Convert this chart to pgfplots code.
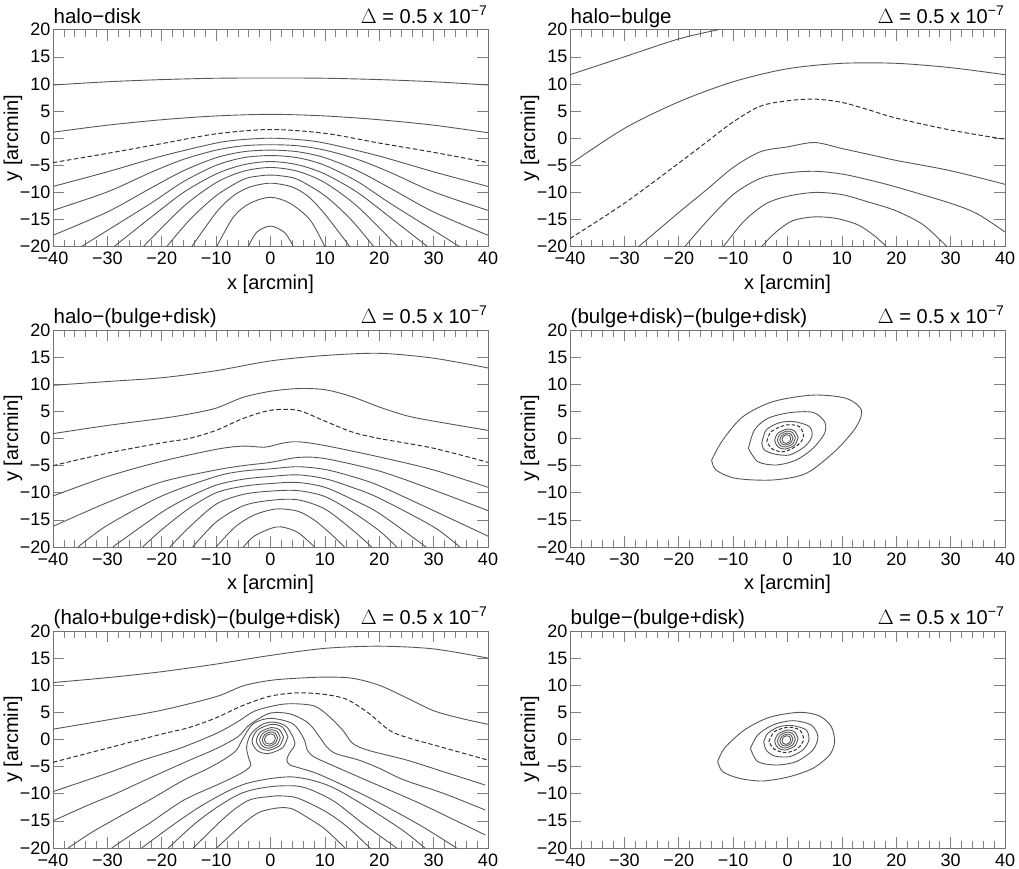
\documentclass[border=0pt]{standalone}
\usepackage{fontspec}
\setmainfont{Liberation Sans}
\usepackage{pgfplots}
\pgfplotsset{compat=1.18}
\newcommand{\tfnt}{\fontsize{18}{20}\selectfont}
\newcommand{\lfnt}{\fontsize{20}{22}\selectfont}
\newcommand{\hfnt}{\fontsize{20.5}{22}\selectfont}
\newcommand{\dl}{\lfnt$\Delta$ = 0.5 x 10\raisebox{0.42em}{\fontsize{14}{14}\selectfont −7}}
\pgfplotsset{
 cl/.style={smooth,no marks,black!66,line width=0.9pt},
 cd/.style={smooth,no marks,black!80,line width=1pt,dash pattern=on 4.5pt off 2.5pt},
 pan/.style={
  scale only axis,width=435pt,height=217pt,anchor=south west,
  xmin=-40,xmax=40,ymin=-20,ymax=20,clip=false,
  xtick={-40,-30,...,40},ytick={-20,-15,...,20},
  xticklabels={−40,−30,−20,−10,0,10,20,30,40},
  yticklabels={−20,−15,−10,−5,0,5,10,15,20},
  minor x tick num=4,
  tick align=inside,major tick length=11pt,minor tick length=7pt,
  axis line style={black!55,line width=0.8pt},
  tick style={black!50,line width=0.6pt},
  x tick label style={font=\tfnt,inner sep=0pt,yshift=-5.5pt,anchor=north},
  y tick label style={font=\tfnt,inner sep=0pt,xshift=-2.5pt,anchor=east},
  every axis y label/.style={at={(rel axis cs:0,0.5)},rotate=90,anchor=center,yshift=40pt,font=\lfnt},
  every axis x label/.style={at={(rel axis cs:0.5,0)},anchor=center,yshift=-37.5pt,font=\lfnt},
  ylabel={y [arcmin]},
 }}
\newcommand{\ttl}[1]{\node[anchor=base west,inner sep=0pt,font=\hfnt] at (rel axis cs:0,1) [yshift=6pt,xshift=0.5pt] {#1};
 \node[anchor=base east,inner sep=0pt,font=\lfnt] at (rel axis cs:1,1) [yshift=6pt,xshift=-1pt] {\dl};}
\begin{document}
\begin{tikzpicture}[x=1pt,y=1pt]
\path[use as bounding box] (0,0) rectangle (1019pt,869pt);
%--------- halo-disk
\begin{axis}[pan,at={(53pt,622.3pt)},xlabel={x [arcmin]}]
\ttl{halo−disk}
\addplot[cl] coordinates {(-40,9.8)(-30,10.4)(-20,10.8)(-10,11.05)(0,11.1)(10,11.05)(20,10.8)(30,10.4)(40,9.8)};
\addplot[cl] coordinates {(-40,1.1)(-30,2.4)(-20,3.4)(-10,4.1)(0,4.4)(10,4.1)(20,3.4)(30,2.4)(40,1.0)};
\addplot[cd] coordinates {(-40,-4.5)(-30,-2.8)(-20,-1)(-10,0.8)(0,1.6)(10,0.9)(20,-0.9)(30,-2.6)(40,-4.5)};
\addplot[cl] coordinates {(-40,-8.9)(-30,-6.2)(-20,-3.3)(-10,-0.9)(-5,-0.25)(0,0)(5,-0.25)(10,-0.9)(20,-3.3)(30,-6.2)(40,-8.9)};
\addplot[cl] coordinates {(-40,-13.3)(-30,-9.9)(-22,-6.3)(-16,-3.9)(-10,-2.2)(-5,-1.4)(0,-1.2)(5,-1.4)(10,-2.2)(16,-3.9)(22,-6.3)(30,-9.9)(40,-13.3)};
\addplot[cl] coordinates {(-40,-17.9)(-30,-13.6)(-22,-9.2)(-16,-6)(-10,-3.6)(-5,-2.5)(0,-2.2)(5,-2.5)(10,-3.6)(16,-6)(22,-9.2)(30,-13.6)(40,-17.9)};
\addplot[cl] coordinates {(-34.8,-20)(-30,-17)(-22,-12)(-16,-8)(-10,-5)(-5,-3.6)(0,-3.2)(5,-3.6)(10,-5)(16,-8)(22,-12)(30,-17)(34.8,-20)};
\addplot[cl] coordinates {(-28.8,-20)(-22,-14.6)(-16,-10)(-10,-6.6)(-5,-4.9)(0,-4.3)(5,-4.9)(10,-6.6)(16,-10)(22,-14.6)(28.9,-20)};
\addplot[cl] coordinates {(-23.4,-20)(-16,-12.6)(-10,-8.2)(-5,-6.1)(0,-5.4)(5,-6.1)(10,-8.2)(16,-12.6)(23.4,-20)};
\addplot[cl] coordinates {(-19.1,-20)(-14.8,-15)(-10,-10.6)(-5,-7.6)(-2,-6.95)(0,-6.8)(2,-6.95)(5,-7.6)(10,-10.6)(14.8,-15)(19,-20)};
\addplot[cl] coordinates {(-14.5,-20)(-9.9,-13.6)(-6.8,-10.6)(-3.8,-9)(0,-8.3)(4,-9)(7,-10.8)(10,-14)(14.6,-20)};
\addplot[cl] coordinates {(-9.9,-20)(-6.8,-14.5)(-3.8,-12)(0,-10.9)(3.6,-12)(7.3,-15.1)(10,-20)};
\addplot[cl] coordinates {(-4.1,-20)(-2.5,-17.3)(0,-16.2)(2.6,-17.4)(4.2,-20)};
\end{axis}
%--------- halo-bulge
\begin{axis}[pan,at={(570pt,622.3pt)},xlabel={x [arcmin]}]
\ttl{halo−bulge}
\addplot[cl] coordinates {(-40,11.7)(-30,15)(-20,18.3)(-12.7,20)};
\addplot[cl] coordinates {(-40,-4.8)(-30,1.8)(-20,6.7)(-10,10.4)(0,12.8)(10,13.8)(20,13.8)(30,13)(40,11.7)};
\addplot[cd] coordinates {(-40,-18.5)(-30,-12)(-20,-4.6)(-15,-0.8)(-10,3)(-5,5.9)(0,6.9)(5,7.2)(10,6.6)(15,5.2)(20,3.7)(30,1.5)(40,-0.2)};
\addplot[cl] coordinates {(-27.4,-20)(-20,-13.7)(-15,-9.6)(-10,-5.4)(-5,-2.5)(0,-1.6)(5,-0.8)(10,-1.9)(15,-3)(20,-4.1)(30,-6)(40,-8.5)};
\addplot[cl] coordinates {(-18.9,-20)(-15,-15.5)(-10,-10.4)(-5,-7.4)(0,-6.4)(5,-6.1)(10,-6.6)(15,-7.7)(20,-9)(30,-12)(35,-14)(40,-17.3)};
\addplot[cl] coordinates {(-11.8,-20)(-8,-15.3)(-4,-12.1)(0,-10.7)(5,-10)(10,-10.4)(15,-11.8)(20,-13.4)(25,-16)(29.3,-20)};
\addplot[cl] coordinates {(-4.8,-20)(-2,-17.2)(1,-15.2)(5,-14.5)(9,-14.8)(13,-16)(16,-18)(18.2,-20)};
\end{axis}
%--------- halo-(bulge+disk)
\begin{axis}[pan,at={(53pt,322pt)},xlabel={x [arcmin]}]
\ttl{halo−(bulge+disk)}
\addplot[cl] coordinates {(-40,9.8)(-30,10.5)(-20,11.2)(-10,12.5)(0,14.3)(10,15.3)(20,15.7)(30,14.8)(40,13)};
\addplot[cl] coordinates {(-40,0.9)(-30,2.4)(-20,3.7)(-15,4.5)(-10,5.6)(-5,7.6)(0,8.7)(5,9.2)(10,9)(15,7.7)(20,5.8)(25,4.2)(30,3.2)(40,1.5)};
\addplot[cd] coordinates {(-40,-5)(-30,-2.7)(-20,-0.8)(-15,0)(-10,1.5)(-5,3.7)(0,5.2)(5,5.2)(10,3.2)(15,1.2)(20,0)(30,-1.8)(40,-4.4)};
\addplot[cl] coordinates {(-40,-10.6)(-30,-7)(-20,-4.2)(-10,-2)(-5,-1.4)(-1,-1.6)(2,-0.9)(5,-0.6)(10,-1.3)(20,-3.4)(30,-5.8)(40,-9)};
\addplot[cl] coordinates {(-40,-16.2)(-30,-11.8)(-20,-8)(-10,-5.8)(-5,-5)(0,-4.4)(5,-3.5)(10,-3.7)(20,-6)(30,-9.5)(40,-13.3)};
\addplot[cl] coordinates {(-35.4,-20)(-30,-16)(-20,-10.6)(-10,-7)(-5,-6)(0,-5.6)(5,-5.2)(10,-5.7)(15,-7)(20,-8.7)(30,-13.3)(40,-18)};
\addplot[cl] coordinates {(-29,-20)(-20,-13.6)(-15,-10.8)(-10,-8.6)(-5,-7.5)(0,-7)(5,-6.7)(10,-7.4)(15,-9)(20,-11)(30,-16.3)(34.8,-20)};
\addplot[cl] coordinates {(-23.5,-20)(-20,-16.8)(-15,-12.9)(-10,-10)(-5,-8.8)(0,-8.3)(5,-8.1)(10,-9)(15,-11.2)(20,-13.8)(28.6,-20)};
\addplot[cl] coordinates {(-18.5,-20)(-15,-16.4)(-10,-12.1)(-5,-10.3)(0,-9.7)(5,-9.6)(10,-10.7)(15,-13.5)(20,-17)(23.2,-20)};
\addplot[cl] coordinates {(-14.3,-20)(-10,-15.4)(-5,-12.4)(0,-11.4)(5,-11.3)(10,-13)(15,-16.8)(18.6,-20)};
\addplot[cl] coordinates {(-10,-20)(-6.5,-16.3)(-3,-14.1)(1,-13)(5,-13.4)(8,-15)(11,-17.5)(13.6,-20)};
\addplot[cl] coordinates {(-5,-20)(-3,-18)(0,-16.6)(2,-16.3)(5,-17.3)(8.1,-20)};
\end{axis}
%--------- (bulge+disk)-(bulge+disk)
\begin{axis}[pan,at={(570pt,322pt)},xlabel={x [arcmin]}]
\ttl{(bulge+disk)−(bulge+disk)}
\addplot[cl] coordinates {(-13.95,-3.97)(-11.9,-0.28)(-8.2,4.02)(-2.7,6.79)(4.67,8.0)(10.8,7.4)(13.6,5.25)(12.65,2.18)(8.97,-2.12)(3.44,-6.42)(-2.7,-7.65)(-9.5,-7.35)(-13.15,-5.81)(-13.95,-3.97)};
\addplot[cl] coordinates {(-7.19,-1.82)(-6.08,1.56)(-3.63,3.71)(0.37,4.76)(4.67,4.82)(6.82,3.1)(6.82,0.95)(4.67,-1.82)(1.6,-3.97)(-2.09,-4.89)(-5.47,-4.27)(-7.19,-1.82)};
\addplot[cl] coordinates {(-4.73,-0.89)(-3.93,1.56)(-1.48,2.91)(1.29,3.1)(4.05,2.18)(4.48,0.33)(3.13,-1.51)(0.37,-3.04)(-2.4,-2.86)(-4.24,-2.12)(-4.73,-0.89)};
\addplot[cd,dash pattern=on 3.5pt off 2pt] coordinates {(-3.81,-0.59)(-3.01,1.26)(-0.25,2.49)(2.21,2.18)(2.95,0.33)(1.9,-1.2)(-0.55,-2.43)(-2.71,-2)(-3.81,-0.59)};
\addplot[cl] coordinates {(1.95,0.18)(1.31,1.38)(0.02,1.75)(-1.71,1.01)(-2.35,-0.38)(-1.71,-1.58)(-0.42,-1.95)(1.31,-1.21)(1.95,0.18)};
\addplot[cl] coordinates {(1.45,0.12)(0.96,1.08)(-0.04,1.37)(-1.36,0.78)(-1.85,-0.32)(-1.36,-1.28)(-0.36,-1.57)(0.96,-0.98)(1.45,0.12)};
\addplot[cl] coordinates {(1,0.07)(0.64,0.78)(-0.08,1)(-1.04,0.56)(-1.4,-0.27)(-1.04,-0.98)(-0.32,-1.2)(0.64,-0.76)(1,0.07)};
\addplot[cl] coordinates {(0.6,0.02)(0.36,0.54)(-0.12,0.7)(-0.76,0.38)(-1,-0.22)(-0.76,-0.74)(-0.28,-0.9)(0.36,-0.58)(0.6,0.02)};
\end{axis}
%--------- (halo+bulge+disk)-(bulge+disk)
\begin{axis}[pan,at={(53pt,21pt)}]
\ttl{(halo+bulge+disk)−(bulge+disk)}
\addplot[cl] coordinates {(-40,10.5)(-30,11.4)(-20,12.5)(-10,13.9)(0,15.5)(10,16.8)(20,17.2)(30,16.7)(40,15)};
\addplot[cl] coordinates {(-40,1.9)(-30,3.6)(-20,5.4)(-10,7.9)(-5,9.9)(0,10.9)(5,11.3)(10,11.5)(15,11.3)(20,10)(25,7.7)(30,5.3)(35,3.9)(40,2.8)};
\addplot[cd] coordinates {(-40,-4.2)(-30,-1.6)(-20,1)(-15,2.2)(-10,4)(-5,6.3)(0,8)(5,8.6)(10,8.3)(14,7.4)(18,4.9)(22,1.6)(26,0.1)(30,-1)(40,-3.8)};
\addplot[cl] coordinates {(-40,-9.6)(-30,-6.2)(-23.4,-3.78)(-16.6,-1.6)(-10,1.1)(-6,3.3)(-3,5.2)(1,6.3)(4,6.6)(8,6.2)(10.5,4.5)(13.3,1.7)(15.1,-0.7)(18,-2)(25,-3.78)(32,-6)(39.5,-8.4)};
\addplot[cl] coordinates {(-40,-15)(-34,-12.3)(-28.3,-9.9)(-22,-7)(-14.8,-3.78)(-10,-1.7)(-6,0.5)(-4,2.6)(-1,4.5)(1,5)(4,4.6)(7,3)(9,0.5)(10.3,-1.3)(12,-2.6)(16.2,-3.78)(20,-5.3)(24.4,-7.4)(32,-10)(39.5,-13)};
\addplot[cl] coordinates {(-37.2,-20)(-33,-17.2)(-28.3,-14.5)(-22,-11)(-16,-7.5)(-12,-5.6)(-8.7,-3.78)(-6.3,-2)(-5,0.3)(-3.2,2.9)(0,3.9)(4.1,2.9)(6.1,0.2)(6.8,-2)(8,-3.2)(11,-4.6)(18.3,-7.8)(27.5,-11.8)(39.5,-17.6)};
\addplot[cl] coordinates {(-29.2,-20)(-25.5,-17.5)(-22.2,-15.4)(-16,-11.2)(-9.9,-8.4)(-6.5,-6.8)(-4.4,-5.6)(-3.6,-4.7)(-3.9,-3.78)(-4.4,-1.4)(-3.6,1)(-1.5,2.8)(0.7,3.2)(3,2.3)(4.5,-0.65)(3.5,-2.5)(3,-3.78)(3.6,-4.7)(5.5,-5.3)(9.1,-6.5)(18.3,-10.8)(27.5,-15.8)(34.2,-20)};
\addplot[cl] coordinates {(-23.7,-20)(-18,-15.8)(-13,-12.4)(-8,-9.6)(-4.4,-8.1)(0,-7.2)(4,-6.9)(8,-7.6)(12,-9.1)(18.3,-12.8)(24.4,-16.8)(28.4,-20)};
\addplot[cl] coordinates {(-18.8,-20)(-14,-15.6)(-10,-12.6)(-6,-10.2)(-3,-9.2)(1,-8.6)(5,-8.6)(8,-9.5)(12,-11.6)(17,-15.5)(23.2,-20)};
\addplot[cl] coordinates {(-14.2,-20)(-8,-14)(-4,-11.2)(0,-10.5)(2,-10.4)(5,-10.8)(10,-13.2)(14,-16)(18.3,-20)};
\addplot[cl] coordinates {(-9.9,-20)(-5,-15.5)(-2,-13.4)(1.5,-12.6)(4,-12.8)(7,-14.5)(10,-16.5)(13.7,-20)};
\addplot[cl] coordinates {(3.2,0.5)(2.21,2.26)(0.23,2.8)(-2.41,1.72)(-3.4,-0.3)(-2.41,-2.06)(-0.43,-2.6)(2.21,-1.52)(3.2,0.5)};
\addplot[cl] coordinates {(2.4,0.42)(1.65,1.78)(0.15,2.2)(-1.85,1.36)(-2.6,-0.22)(-1.85,-1.58)(-0.35,-2)(1.65,-1.16)(2.4,0.42)};
\addplot[cl] coordinates {(1.8,0.36)(1.23,1.46)(0.09,1.8)(-1.43,1.12)(-2,-0.16)(-1.43,-1.26)(-0.29,-1.6)(1.23,-0.92)(1.8,0.36)};
\addplot[cl] coordinates {(1.3,0.3)(0.88,1.14)(0.04,1.4)(-1.08,0.88)(-1.5,-0.1)(-1.08,-0.94)(-0.24,-1.2)(0.88,-0.68)(1.3,0.3)};
\addplot[cl] coordinates {(0.9,0.24)(0.6,0.86)(0,1.05)(-0.8,0.67)(-1.1,-0.04)(-0.8,-0.66)(-0.2,-0.85)(0.6,-0.47)(0.9,0.24)};
\end{axis}
%--------- bulge-(bulge+disk)
\begin{axis}[pan,at={(570pt,21pt)}]
\ttl{bulge−(bulge+disk)}
\addplot[cl] coordinates {(-12.84,-4.08)(-11.62,-1.63)(-7.93,1.75)(-3.32,4.09)(2.21,5.01)(5.9,4.33)(8.05,2.37)(8.66,-0.4)(7.74,-2.86)(4.67,-5.31)(0.37,-6.85)(-4.55,-7.65)(-8.85,-7.16)(-11.92,-5.93)(-12.84,-4.08)};
\addplot[cl] coordinates {(-6.82,-1.63)(-5.47,0.83)(-2.71,2.67)(0.98,3.47)(4.36,2.67)(5.59,0.52)(4.67,-1.93)(1.6,-4.08)(-2.09,-4.7)(-5.47,-4.08)(-6.82,-1.63)};
\addplot[cl] coordinates {(-4.36,-0.4)(-3.63,1.14)(-1.48,2.37)(0.98,2.55)(3.44,1.75)(3.93,-0.09)(2.82,-1.93)(0.37,-3.16)(-2.4,-3.04)(-3.93,-1.93)(-4.36,-0.4)};
\addplot[cd,dash pattern=on 3.5pt off 2pt] coordinates {(-3.44,-0.4)(-2.4,1.45)(0.06,2.25)(2.21,1.75)(2.95,0.03)(1.9,-1.63)(-0.25,-2.42)(-2.4,-1.81)(-3.44,-0.4)};
\addplot[cl] coordinates {(1.95,0.18)(1.31,1.38)(0.02,1.75)(-1.71,1.01)(-2.35,-0.38)(-1.71,-1.58)(-0.42,-1.95)(1.31,-1.21)(1.95,0.18)};
\addplot[cl] coordinates {(1.45,0.12)(0.96,1.08)(-0.04,1.37)(-1.36,0.78)(-1.85,-0.32)(-1.36,-1.28)(-0.36,-1.57)(0.96,-0.98)(1.45,0.12)};
\addplot[cl] coordinates {(1,0.07)(0.64,0.78)(-0.08,1)(-1.04,0.56)(-1.4,-0.27)(-1.04,-0.98)(-0.32,-1.2)(0.64,-0.76)(1,0.07)};
\addplot[cl] coordinates {(0.6,0.02)(0.36,0.54)(-0.12,0.7)(-0.76,0.38)(-1,-0.22)(-0.76,-0.74)(-0.28,-0.9)(0.36,-0.58)(0.6,0.02)};
\end{axis}
\end{tikzpicture}
\end{document}
